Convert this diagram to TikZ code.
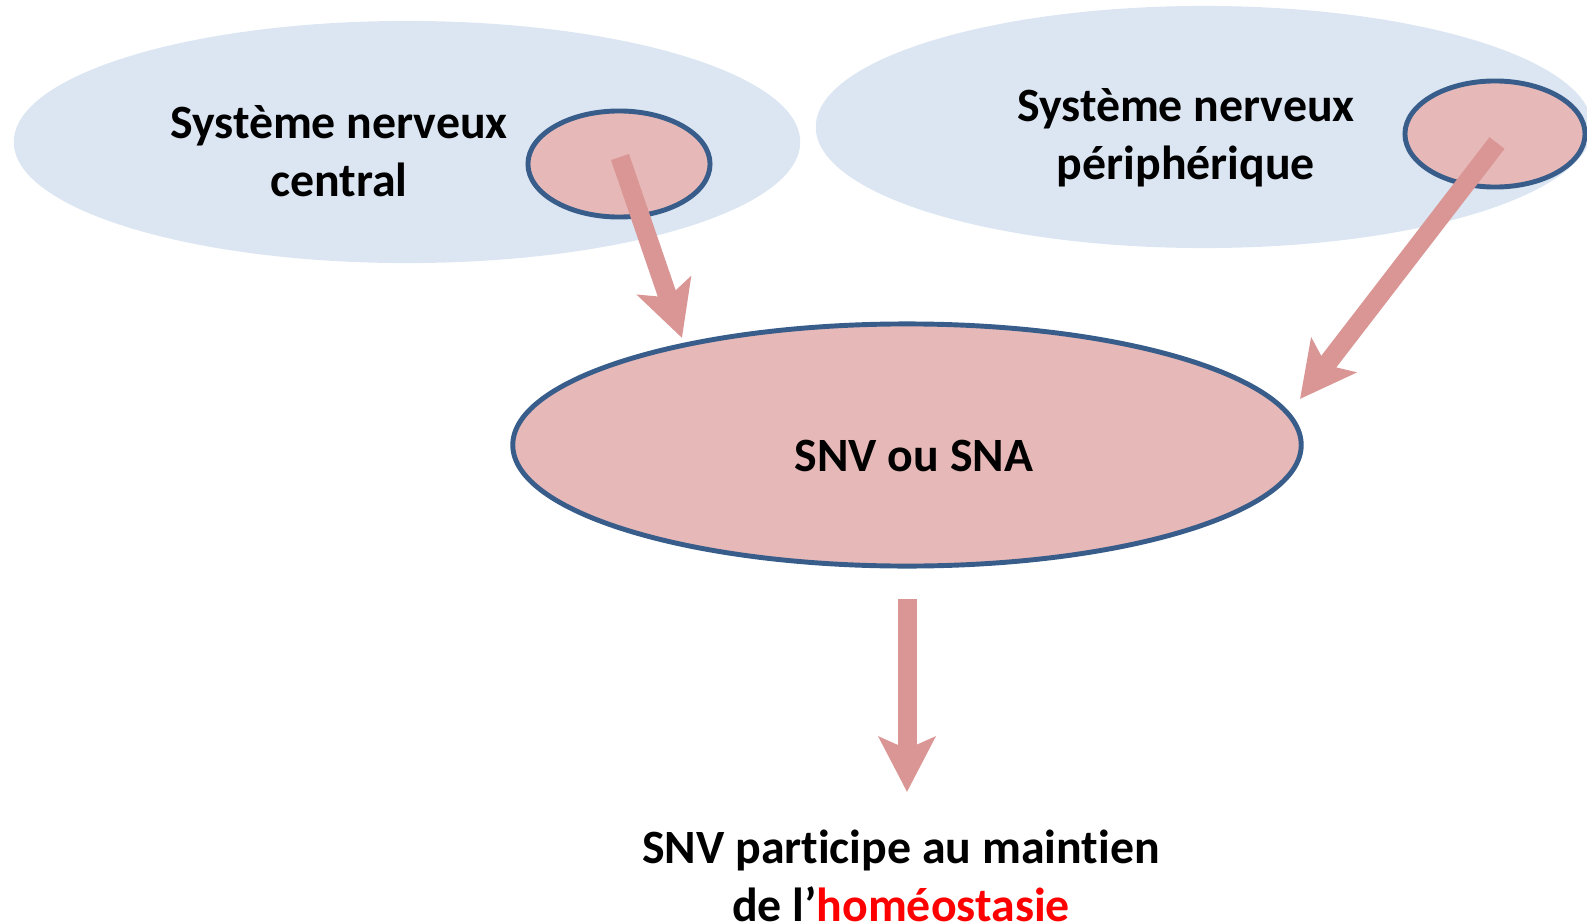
\documentclass[tikz,border=0pt]{standalone}
\usepackage{fontspec}
\setmainfont{Carlito}[Ligatures=NoCommon]
\usetikzlibrary{shapes.geometric,arrows.meta,calc}
\definecolor{nsblue}{HTML}{DCE6F2}
\definecolor{nspink}{HTML}{E6B9B8}
\definecolor{nsline}{HTML}{385D8A}
\definecolor{nsarrow}{HTML}{D99694}
\tikzset{
  bigoval/.style={ellipse,fill=nsblue,inner sep=0pt},
  pinkoval/.style={ellipse,fill=nspink,draw=nsline,line width=1.4pt,inner sep=0pt},
  bigarrow/.style={draw=nsarrow,line width=5.4pt,-{Stealth[length=15.6pt,width=15.9pt,inset=3.4pt,fill=nsarrow]}},
  lbl/.style={font=\fontsize{13.6}{16.5}\selectfont\bfseries,align=center}
}
\begin{document}
\begin{tikzpicture}[x=0.01cm,y=-0.01cm]
\useasboundingbox (0,0) rectangle (1587,924);
\node[bigoval,minimum width=7.86cm,minimum height=2.42cm] (cnsbg) at (407,142) {};
\node[bigoval,minimum width=7.76cm,minimum height=2.42cm] (pnsbg) at (1204,127) {};
\node[pinkoval,minimum width=1.82cm,minimum height=1.06cm] (cns) at (619,164) {};
\node[pinkoval,minimum width=1.8cm,minimum height=1.06cm] (pns) at (1495,134) {};
\node[lbl] (cnstxt) at (339,151) {Système nerveux\\central};
\node[lbl] (pnstxt) at (1186,138) {Système nerveux\\périphérique};
\node[pinkoval,minimum width=7.88cm,minimum height=2.42cm] (snv) at (907,445) {};
\node[lbl] (snvtxt) at (914,456) {SNV ou SNA};
\node[lbl] (concl) at (901,876) {SNV participe au maintien\\de l’\textcolor{red}{homéostasie}};
\coordinate (t1) at (682,338);
\coordinate (t2) at (1300,399);
\coordinate (t3) at (907,792);
\draw[bigarrow] ($(cns.center)+(1,-7)$) -- (t1);
\draw[bigarrow] ($(pns.center)+(2,9)$) -- (t2);
\draw[bigarrow] ($(snv.south)+(0,30)$) -- (t3);
\end{tikzpicture}
\end{document}
